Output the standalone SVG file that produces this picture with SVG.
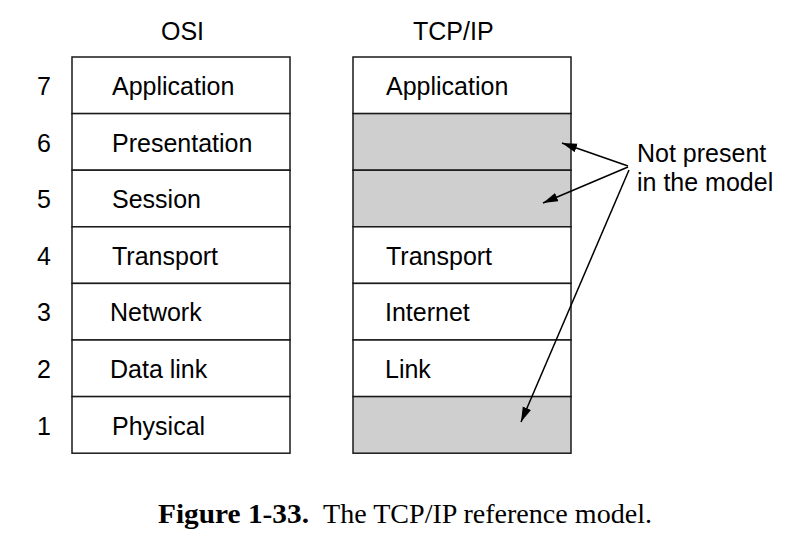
<svg xmlns="http://www.w3.org/2000/svg" width="804" height="542" viewBox="0 0 804 542">
<style>
  .lbl { font-family: "Liberation Sans", Arial, Helvetica, sans-serif; font-size: 25px; fill: #000; }
  .box { fill: #fff; stroke: #1a1a1a; stroke-width: 1.5; }
  .gray { fill: #cfcfcf; stroke: #1a1a1a; stroke-width: 1.5; }
  .conn { stroke: #000; stroke-width: 1.5; fill: none; marker-end: url(#arr); }
  .cap { font-family: "Liberation Serif", "Times New Roman", serif; font-size: 28px; fill: #000; }
</style>
<defs>
  <marker id="arr" markerUnits="userSpaceOnUse" markerWidth="16" markerHeight="10" refX="15" refY="4.5" orient="auto">
    <path d="M0,0 L15,4.5 L0,9 Z" fill="#000"/>
  </marker>
</defs>
<rect width="804" height="542" fill="#fff"/>

<g id="osi-header"><text class="lbl" x="161" y="40">OSI</text></g>
<g id="tcpip-header"><text class="lbl" x="413" y="40">TCP/IP</text></g>

<g id="layer-numbers">
  <text class="lbl" x="37" y="95">7</text>
  <text class="lbl" x="37" y="151.6">6</text>
  <text class="lbl" x="37" y="208.2">5</text>
  <text class="lbl" x="37" y="264.8">4</text>
  <text class="lbl" x="37" y="321.4">3</text>
  <text class="lbl" x="37" y="378">2</text>
  <text class="lbl" x="37" y="434.6">1</text>
</g>

<g id="osi-7"><rect class="box" x="72" y="57" width="218" height="56.6"/><text class="lbl" x="112" y="95">Application</text></g>
<g id="osi-6"><rect class="box" x="72" y="113.6" width="218" height="56.6"/><text class="lbl" x="112" y="151.6">Presentation</text></g>
<g id="osi-5"><rect class="box" x="72" y="170.2" width="218" height="56.6"/><text class="lbl" x="112" y="208.2">Session</text></g>
<g id="osi-4"><rect class="box" x="72" y="226.8" width="218" height="56.6"/><text class="lbl" x="112" y="264.8">Transport</text></g>
<g id="osi-3"><rect class="box" x="72" y="283.4" width="218" height="56.6"/><text class="lbl" x="110" y="321.4">Network</text></g>
<g id="osi-2"><rect class="box" x="72" y="340" width="218" height="56.6"/><text class="lbl" x="110" y="378">Data link</text></g>
<g id="osi-1"><rect class="box" x="72" y="396.6" width="218" height="56.6"/><text class="lbl" x="112" y="434.6">Physical</text></g>

<g id="tcp-application"><rect class="box" x="353" y="57" width="218" height="56.6"/><text class="lbl" x="386" y="95">Application</text></g>
<g id="tcp-6"><rect class="gray" x="353" y="113.6" width="218" height="56.6"/></g>
<g id="tcp-5"><rect class="gray" x="353" y="170.2" width="218" height="56.6"/></g>
<g id="tcp-transport"><rect class="box" x="353" y="226.8" width="218" height="56.6"/><text class="lbl" x="386" y="264.8">Transport</text></g>
<g id="tcp-internet"><rect class="box" x="353" y="283.4" width="218" height="56.6"/><text class="lbl" x="385" y="321.4">Internet</text></g>
<g id="tcp-link"><rect class="box" x="353" y="340" width="218" height="56.6"/><text class="lbl" x="385" y="378">Link</text></g>
<g id="tcp-1"><rect class="gray" x="353" y="396.6" width="218" height="56.6"/></g>

<g id="note">
  <text class="lbl" x="637" y="162">Not present</text>
  <text class="lbl" x="637" y="191">in the model</text>
</g>

<g id="connectors">
  <line class="conn" x1="628" y1="166" x2="562" y2="143"/>
  <line class="conn" x1="628" y1="167" x2="543" y2="203"/>
  <line class="conn" x1="629" y1="170" x2="521" y2="422"/>
</g>

<g id="caption">
  <text class="cap" x="158" y="523" font-weight="bold" textLength="151" lengthAdjust="spacingAndGlyphs">Figure 1-33.</text>
  <text class="cap" x="323" y="523" textLength="329" lengthAdjust="spacingAndGlyphs">The TCP/IP reference model.</text>
</g>
</svg>
